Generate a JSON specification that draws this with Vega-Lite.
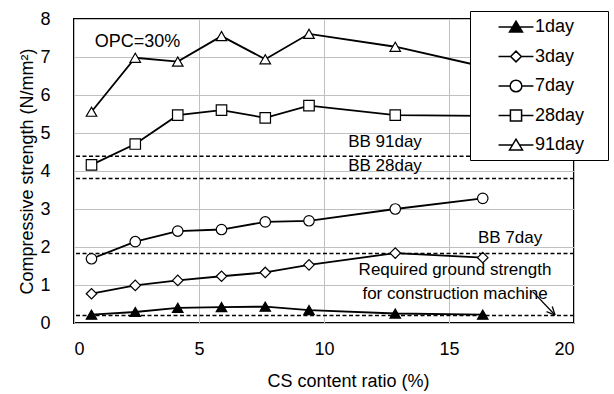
{
  "$schema": "https://vega.github.io/schema/vega-lite/v6.json",
  "width": 500,
  "height": 304,
  "autosize": {"type": "none"},
  "padding": {"left": 74, "top": 19, "right": 40, "bottom": 71},
  "background": "white",
  "config": {
    "view": {"stroke": "black", "strokeWidth": 2},
    "font": "Liberation Sans",
    "axis": {"gridColor": "#c0c0c0", "gridWidth": 1, "domain": false, "ticks": true, "tickColor": "transparent", "labelFont": "Liberation Sans", "labelFontSize": 18, "labelColor": "black", "titleFont": "Liberation Sans", "titleFontSize": 18, "titleFontWeight": "normal", "titleColor": "black"},
    "legend": {"orient": "none", "legendX": 396, "legendY": -8, "titleOrient": "right", "titleColor": "white", "titleFontSize": 16, "titleFontWeight": "normal", "titlePadding": 4, "fillColor": "white", "strokeColor": "black", "padding": 6, "rowPadding": 10.5, "symbolSize": 324, "symbolOffset": 30, "labelOffset": 9, "labelFontSize": 18, "labelFont": "Liberation Sans", "labelColor": "black", "symbolStrokeWidth": 1.5, "symbolStrokeColor": "black"}
  },
  "datasets": {
    "main": [
      {"x": 0.7, "y": 0.22, "series": "1day"}, {"x": 2.45, "y": 0.29, "series": "1day"}, {"x": 4.15, "y": 0.40, "series": "1day"}, {"x": 5.9, "y": 0.42, "series": "1day"}, {"x": 7.65, "y": 0.43, "series": "1day"}, {"x": 9.4, "y": 0.34, "series": "1day"}, {"x": 12.85, "y": 0.25, "series": "1day"}, {"x": 16.35, "y": 0.22, "series": "1day"},
      {"x": 0.7, "y": 0.77, "series": "3day"}, {"x": 2.45, "y": 0.99, "series": "3day"}, {"x": 4.15, "y": 1.12, "series": "3day"}, {"x": 5.9, "y": 1.23, "series": "3day"}, {"x": 7.65, "y": 1.33, "series": "3day"}, {"x": 9.4, "y": 1.53, "series": "3day"}, {"x": 12.85, "y": 1.84, "series": "3day"}, {"x": 16.35, "y": 1.72, "series": "3day"},
      {"x": 0.7, "y": 1.69, "series": "7day"}, {"x": 2.45, "y": 2.14, "series": "7day"}, {"x": 4.15, "y": 2.42, "series": "7day"}, {"x": 5.9, "y": 2.46, "series": "7day"}, {"x": 7.65, "y": 2.66, "series": "7day"}, {"x": 9.4, "y": 2.69, "series": "7day"}, {"x": 12.85, "y": 3.0, "series": "7day"}, {"x": 16.35, "y": 3.28, "series": "7day"},
      {"x": 0.7, "y": 4.16, "series": "28day"}, {"x": 2.45, "y": 4.71, "series": "28day"}, {"x": 4.15, "y": 5.47, "series": "28day"}, {"x": 5.9, "y": 5.6, "series": "28day"}, {"x": 7.65, "y": 5.4, "series": "28day"}, {"x": 9.4, "y": 5.72, "series": "28day"}, {"x": 12.85, "y": 5.47, "series": "28day"}, {"x": 16.35, "y": 5.45, "series": "28day"},
      {"x": 0.7, "y": 5.56, "series": "91day"}, {"x": 2.45, "y": 6.98, "series": "91day"}, {"x": 4.15, "y": 6.88, "series": "91day"}, {"x": 5.9, "y": 7.55, "series": "91day"}, {"x": 7.65, "y": 6.94, "series": "91day"}, {"x": 9.4, "y": 7.61, "series": "91day"}, {"x": 12.85, "y": 7.27, "series": "91day"}, {"x": 16.35, "y": 6.75, "series": "91day"}
    ],
    "thresholds": [
      {"y": 4.39, "name": "BB 91day"}, {"y": 3.80, "name": "BB 28day"}, {"y": 1.83, "name": "BB 7day"}, {"y": 0.20, "name": "Required"}
    ],
    "labels": [
      {"x": 12.44, "y": 4.63, "text": "BB 91day"},
      {"x": 12.44, "y": 4.0, "text": "BB 28day"},
      {"x": 17.44, "y": 2.1, "text": "BB 7day"},
      {"x": 15.24, "y": 1.26, "text": "Required ground strength"},
      {"x": 15.24, "y": 0.63, "text": "for construction machine"}
    ],
    "title": [{"x": 2.54, "y": 7.27, "text": "OPC=30%"}],
    "arrow": [
      {"x": 18.36, "y": 0.82, "x2": 19.24, "y2": 0.21},
      {"x": 19.13, "y": 0.434, "x2": 19.24, "y2": 0.21},
      {"x": 18.90, "y": 0.297, "x2": 19.24, "y2": 0.21}
    ]
  },
  "encoding": {
    "x": {"field": "x", "type": "quantitative", "scale": {"domain": [0, 20], "nice": false, "zero": false},
      "axis": {"values": [0, 5, 10, 15, 20], "title": "CS content ratio (%)", "tickSize": 15, "labelPadding": 2, "titlePadding": 14, "titleX": 274, "grid": true}},
    "y": {"field": "y", "type": "quantitative", "scale": {"domain": [0, 8], "nice": false},
      "axis": {"values": [0, 1, 2, 3, 4, 5, 6, 7, 8], "title": "Compressive strength (N/mm²)", "tickSize": 22, "labelPadding": 2, "titlePadding": 3, "grid": true}}
  },
  "layer": [
    {
      "data": {"name": "thresholds"},
      "mark": {"type": "rule", "color": "black", "strokeWidth": 1.5, "strokeDash": [4, 2.5]},
      "encoding": {"x": null, "y": {"field": "y", "type": "quantitative"}}
    },
    {
      "data": {"name": "main"},
      "mark": {"type": "line", "color": "black", "strokeWidth": 1.8},
      "encoding": {"detail": {"field": "series"}}
    },
    {
      "data": {"name": "main"},
      "mark": {"type": "point", "filled": true, "stroke": "black", "strokeWidth": 1.2, "opacity": 1, "size": 110},
      "encoding": {
        "shape": {"field": "series", "type": "nominal", "legend": null, "scale": {"domain": ["1day", "3day", "7day", "28day", "91day"], "range": ["triangle-up", "diamond", "circle", "square", "triangle-up"]}},
        "fill": {"field": "series", "type": "nominal", "legend": null, "scale": {"domain": ["1day", "3day", "7day", "28day", "91day"], "range": ["black", "white", "white", "white", "white"]}}
      }
    },
    {
      "data": {"name": "main"},
      "transform": [{"filter": "datum.x < -100"}],
      "mark": {"type": "point", "filled": true, "strokeWidth": 1.5, "opacity": 1, "size": 324},
      "encoding": {
        "shape": {"field": "series", "type": "nominal", "legend": {"title": "M"},
          "scale": {"domain": ["1day", "3day", "7day", "28day", "91day"], "range": [
            "M-1.94,0H-0.39M0.39,0H1.94M0,-0.65L0.72,0.55L-0.72,0.55Z",
            "M-1.94,0H-0.6M0.6,0H1.94M-0.6,0L0,-0.6L0.6,0L0,0.6Z",
            "M-1.94,0H-0.65M0.65,0H1.94M0.65,0A0.65,0.65 0 1 1 -0.65,0A0.65,0.65 0 1 1 0.65,0Z",
            "M-1.94,0H-0.62M0.62,0H1.94M-0.62,-0.62H0.62V0.62H-0.62Z",
            "M-1.94,0H-0.39M0.39,0H1.94M0,-0.65L0.72,0.55L-0.72,0.55Z"
          ]}},
        "fill": {"field": "series", "type": "nominal", "legend": {"title": "M"},
          "scale": {"domain": ["1day", "3day", "7day", "28day", "91day"], "range": ["black", "white", "white", "white", "white"]}},
        "stroke": {"field": "series", "type": "nominal", "legend": {"title": "M"},
          "scale": {"domain": ["1day", "3day", "7day", "28day", "91day"], "range": ["black", "black", "black", "black", "black"]}}
      }
    },
    {
      "data": {"name": "labels"},
      "mark": {"type": "text", "font": "Liberation Sans", "fontSize": 17, "color": "black", "align": "center", "baseline": "alphabetic"},
      "encoding": {"text": {"field": "text"}}
    },
    {
      "data": {"name": "title"},
      "mark": {"type": "text", "font": "Liberation Sans", "fontSize": 18, "color": "black", "align": "center", "baseline": "alphabetic"},
      "encoding": {"text": {"field": "text"}}
    },
    {
      "data": {"name": "arrow"},
      "mark": {"type": "rule", "color": "black", "strokeWidth": 1.3},
      "encoding": {"x2": {"field": "x2"}, "y2": {"field": "y2"}}
    }
  ],
  "resolve": {"scale": {"shape": "independent", "fill": "independent", "stroke": "independent"}}
}
